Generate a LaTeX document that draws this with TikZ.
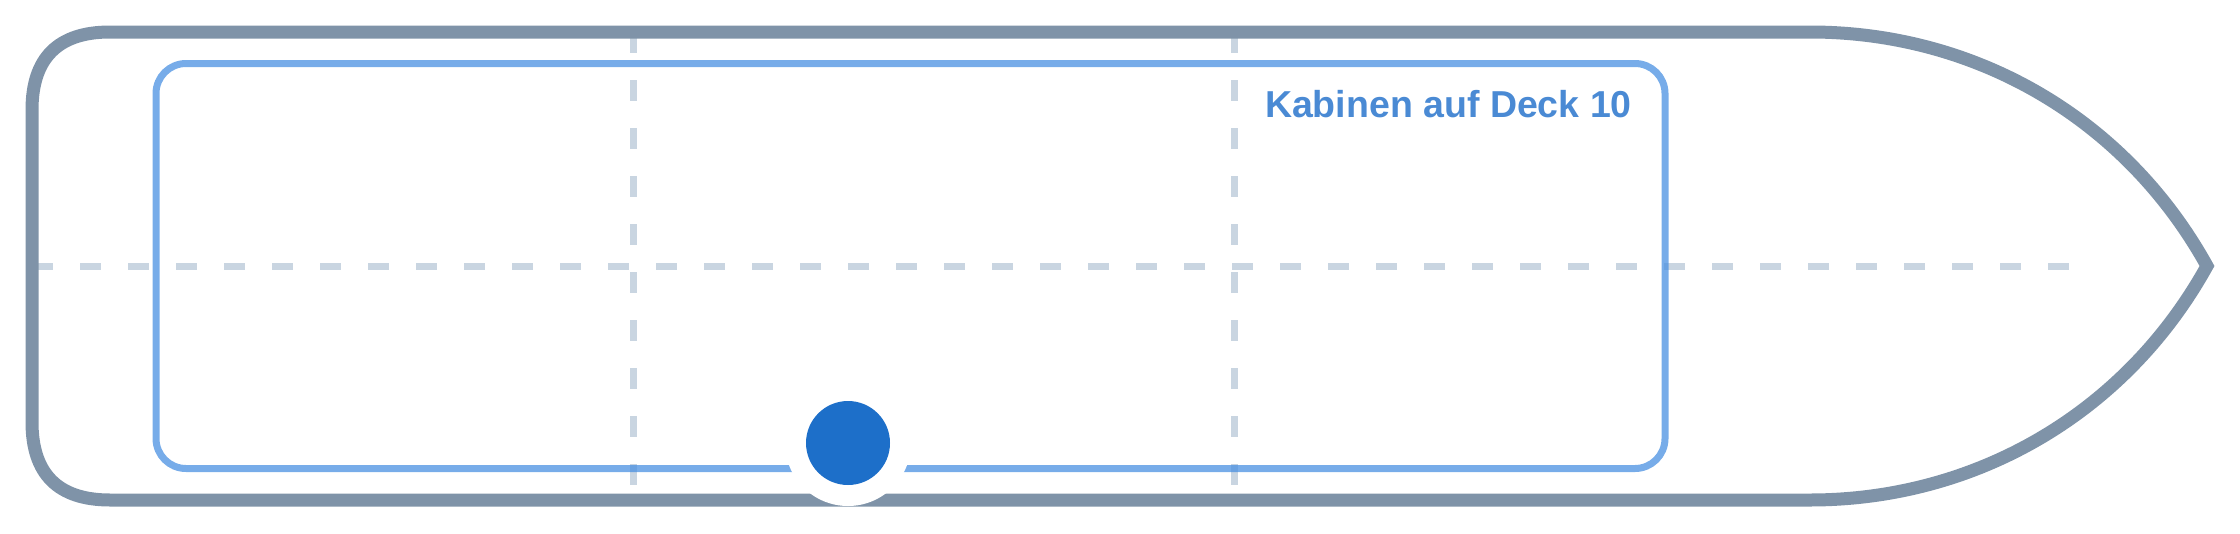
\documentclass[tikz,border=0pt]{standalone}
\usepackage{fontspec}
\setmainfont{Liberation Sans}
\definecolor{hullc}{HTML}{7F93A8}
\definecolor{deckc}{HTML}{4A90E2}
\definecolor{gridc}{HTML}{C9D5E1}
\definecolor{dotc}{HTML}{1D6FC9}
\definecolor{labelc}{HTML}{4A8AD4}
\tikzset{
  gridline/.style={draw=gridc, line width=7pt, dash pattern=on 21pt off 27pt},
  hullline/.style={draw=hullc, line width=13pt, line join=miter},
  deckline/.style={draw=deckc, draw opacity=0.75, line width=7pt, rounded corners=30pt},
  halo/.style={circle, fill=white, minimum size=126pt, inner sep=0pt},
  dot/.style={circle, fill=dotc, minimum size=84pt, inner sep=0pt},
  decklabel/.style={text=labelc, font=\fontsize{37.5}{45}\selectfont\bfseries, anchor=base east, inner sep=0pt}
}
\begin{document}
\begin{tikzpicture}[x=1pt, y=-1pt]
\useasboundingbox (0,0) rectangle (2240,533);
% grid lines
\coordinate (v1t) at (633,32); \coordinate (v1b) at (633,500);
\coordinate (v2t) at (1234,32); \coordinate (v2b) at (1234,500);
\coordinate (hl) at (32,266); \coordinate (hr) at (2075,266);
\draw[gridline] (v1t) -- (v1b);
\draw[gridline] (v2t) -- (v2b);
\draw[gridline] (hl) -- (hr);
% hull
\draw[hullline] (110,32) -- (1810,32)
  .. controls (1975,32) and (2125,118) .. (2207,266)
  .. controls (2125,414) and (1975,500) .. (1810,500)
  -- (110,500)
  .. controls (58,500) and (32,474) .. (32,422)
  -- (32,110)
  .. controls (32,58) and (58,32) .. (110,32) -- cycle;
% deck
\draw[deckline] (156,63.5) rectangle (1665,468.5);
% marker
\node[halo] (haloA) at (848,443) {};
\node[dot] (marker) at (848,443) {};
% label
\node[decklabel] (label) at (1632,117) {Kabinen auf Deck 10};
\end{tikzpicture}
\end{document}
